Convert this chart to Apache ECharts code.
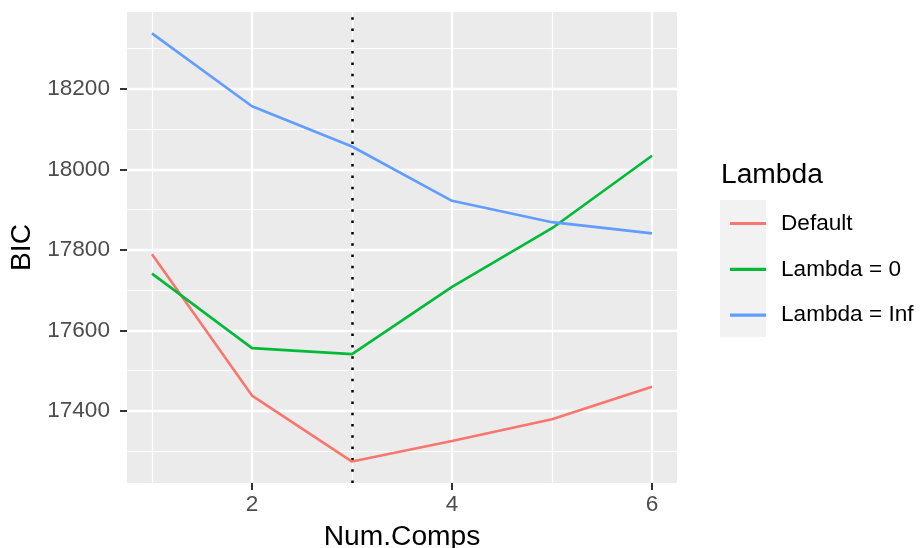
<!DOCTYPE html>
<html>
<head>
<meta charset="utf-8">
<script src="https://cdn.jsdelivr.net/npm/echarts@6/dist/echarts.min.js"></script>
<style>
html,body{margin:0;padding:0;background:#fff;}
#c{width:923px;height:548px;}
</style>
</head>
<body>
<div id="c"></div>
<script>
const comps = [1, 2, 3, 4, 5, 6];
const bicDefault = [17789, 17438, 17274, 17325, 17379, 17460];
const bicLambda0 = [17741, 17556, 17541, 17708, 17854, 18034];
const bicLambdaInf = [18338, 18157, 18057, 17922, 17869, 17841];
const seriesNames = ['Default', 'Lambda = 0', 'Lambda = Inf'];
const xTicks = [2, 4, 6];
const xMinor = [1, 3, 5];
const yTicks = [17400, 17600, 17800, 18000, 18200];
const yMinor = [17300, 17500, 17700, 17900, 18100, 18300];
const selectedComps = 3;

const colors = ['#F8766D', '#00BA38', '#619CFF'];
const allVals = bicDefault.concat(bicLambda0, bicLambdaInf);
const yLo = Math.min(...allVals), yHi = Math.max(...allVals);
const yR = yHi - yLo;
const xLo = Math.min(...comps), xHi = Math.max(...comps);
const xR = xHi - xLo;

const chart = echarts.init(document.getElementById('c'), null, {renderer: 'canvas'});
const font = 'Liberation Sans, Arial, sans-serif';
const pair = (xs, vals) => xs.map((x, i) => [x, vals[i]]);

const gridLines = [];
xMinor.forEach(v => gridLines.push({xAxis: v, lineStyle: {width: 1.2}}));
yMinor.forEach(v => gridLines.push({yAxis: v, lineStyle: {width: 1.2}}));
xTicks.forEach(v => gridLines.push({xAxis: v, lineStyle: {width: 2.3}}));
yTicks.forEach(v => gridLines.push({yAxis: v, lineStyle: {width: 2.3}}));

const lineSeries = [bicDefault, bicLambda0, bicLambdaInf].map((vals, i) => ({
  name: seriesNames[i],
  type: 'line',
  data: pair(comps, vals),
  symbol: 'none',
  z: 5,
  lineStyle: {color: colors[i], width: 2.6},
  itemStyle: {color: colors[i]},
  animation: false
}));

chart.setOption({
  animation: false,
  backgroundColor: '#ffffff',
  textStyle: {fontFamily: font},
  grid: {left: 127, right: 246, top: 12, bottom: 65, show: true, backgroundColor: '#EBEBEB', borderWidth: 0,
         containLabel: false, outerBoundsMode: 'none'},
  title: {
    text: 'Lambda', left: 716, top: 156,
    textStyle: {fontFamily: font, fontSize: 28.2, fontWeight: 'normal', color: '#000'}
  },
  graphic: [{
    type: 'rect', left: 720, top: 200, z: -1,
    shape: {width: 46, height: 137},
    style: {fill: '#F2F2F2'}
  }],
  legend: {
    orient: 'vertical', left: 725, top: 205.5,
    data: seriesNames,
    icon: 'rect', itemWidth: 36, itemHeight: 3.2, itemGap: 19.8,
    textStyle: {fontFamily: font, fontSize: 22.6, color: '#000', lineHeight: 26, padding: [0, 0, 0, 10]},
    selectedMode: false
  },
  xAxis: {
    type: 'value', min: xLo - 0.05 * xR, max: xHi + 0.05 * xR,
    name: 'Num.Comps', nameLocation: 'middle', nameGap: 40,
    nameTextStyle: {fontFamily: font, fontSize: 28.2, color: '#000'},
    axisLine: {show: false},
    axisTick: {show: true, length: 7, lineStyle: {color: '#333333', width: 2}, customValues: xTicks},
    axisLabel: {fontFamily: font, fontSize: 22.6, color: '#4D4D4D', margin: 10, customValues: xTicks},
    splitLine: {show: false}
  },
  yAxis: {
    type: 'value', min: yLo - 0.05 * yR, max: yHi + 0.05 * yR,
    name: 'BIC', nameLocation: 'middle', nameGap: 87, nameRotate: 90,
    nameTextStyle: {fontFamily: font, fontSize: 28.2, color: '#000'},
    axisLine: {show: false},
    axisTick: {show: true, length: 7, lineStyle: {color: '#333333', width: 2}, customValues: yTicks},
    axisLabel: {fontFamily: font, fontSize: 22.6, color: '#4D4D4D', margin: 17, customValues: yTicks,
                formatter: v => String(v)},
    splitLine: {show: false}
  },
  series: [{
    name: '_grid', type: 'line', data: [], z: 1, silent: true,
    markLine: {
      silent: true, symbol: ['none', 'none'], label: {show: false},
      lineStyle: {color: '#FFFFFF', type: 'solid'},
      emphasis: {disabled: true},
      data: gridLines
    }
  }].concat(lineSeries).concat([{
    name: '_vline', type: 'line', data: [], z: 6, silent: true,
    markLine: {
      silent: true, symbol: ['none', 'none'], label: {show: false},
      lineStyle: {color: '#000000', type: [2.5, 8.8], width: 2.5},
      emphasis: {disabled: true},
      data: [{xAxis: selectedComps}]
    }
  }])
});
</script>
</body>
</html>
